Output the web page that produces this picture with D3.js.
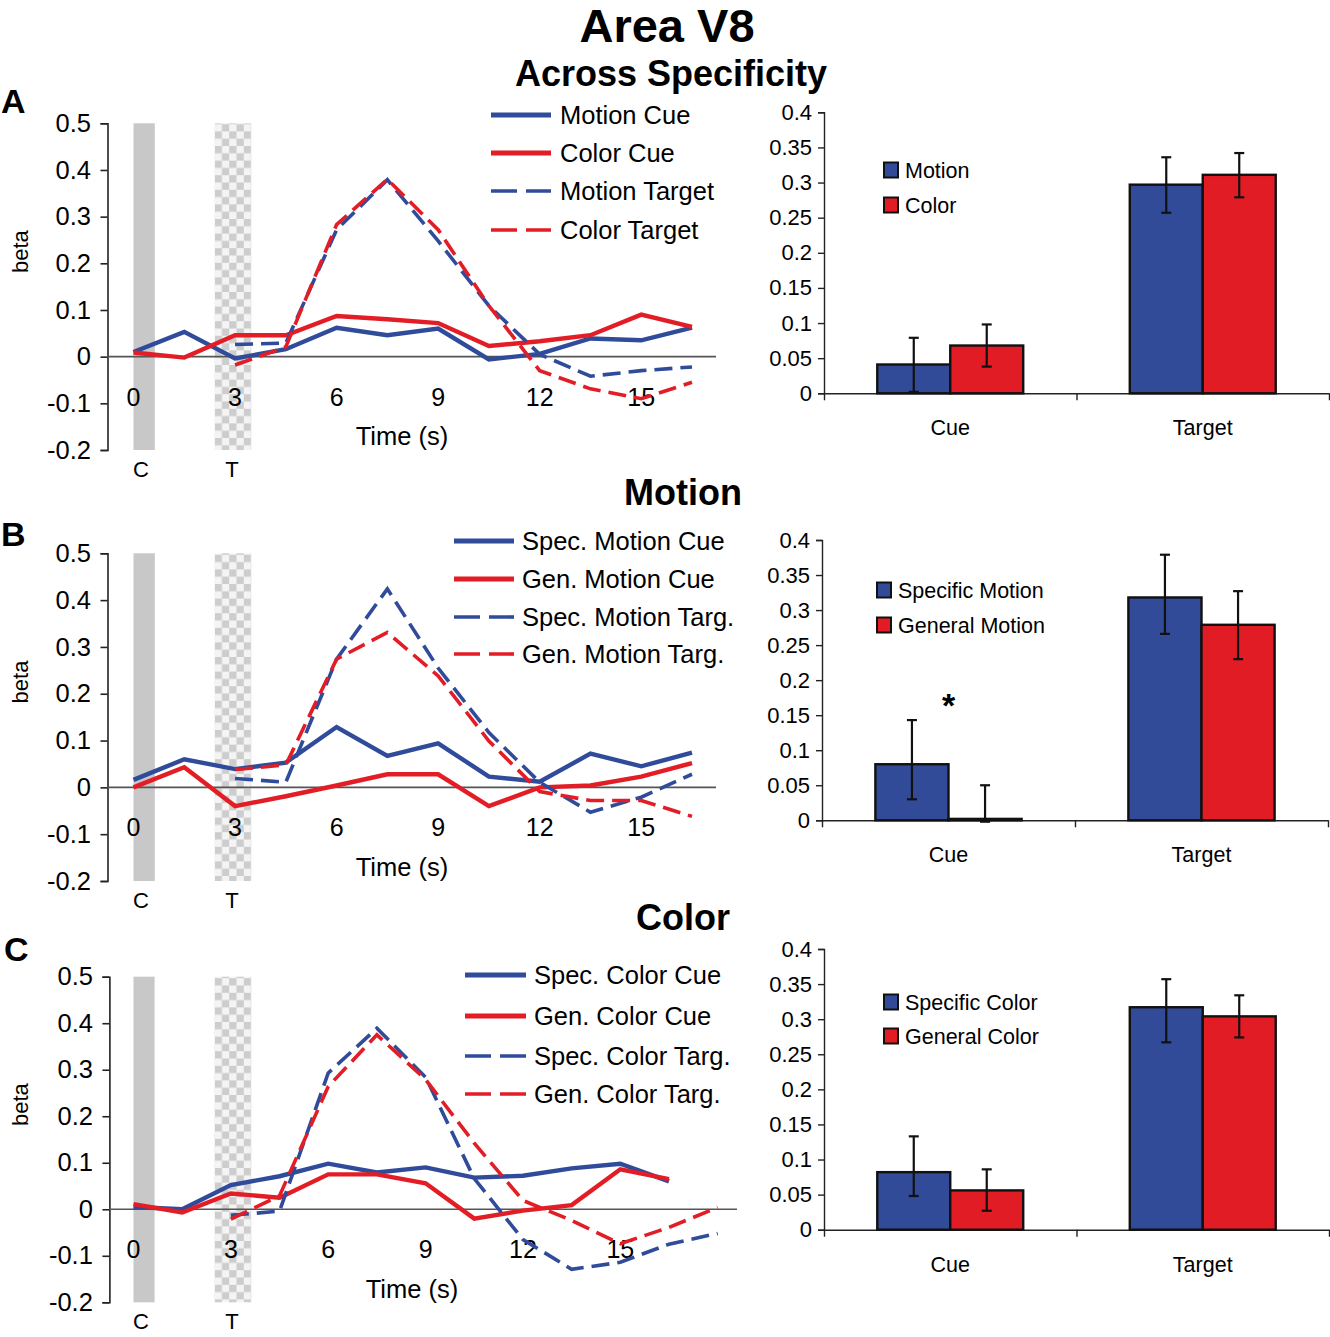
<!DOCTYPE html>
<html><head><meta charset="utf-8">
<script src="https://cdn.jsdelivr.net/npm/d3@7"></script>
<style>
body{margin:0;background:#fff;}
svg{display:block;font-family:"Liberation Sans",Arial,Helvetica,sans-serif;}
</style>
</head><body>
<svg id="chart" width="1330" height="1337"></svg>
<script>
// ---------------- DATA ----------------
const timeCue = [0, 1.5, 3, 4.5, 6, 7.5, 9, 10.5, 12, 13.5, 15, 16.5];
const timeTarget = [3, 4.5, 6, 7.5, 9, 10.5, 12, 13.5, 15, 16.5];
const timeTargetC = [3, 4.5, 6, 7.5, 9, 10.5, 12, 13.5, 15, 16.5, 18];
const xTickValues = [0, 3, 6, 9, 12, 15];
const yTicksLine = [-0.2, -0.1, 0, 0.1, 0.2, 0.3, 0.4, 0.5];
const yTicksBar = [0, 0.05, 0.1, 0.15, 0.2, 0.25, 0.3, 0.35, 0.4];
const barCategories = ["Cue", "Target"];

// Panel A: across specificity
const aMotionCue    = [0.010, 0.053, -0.004, 0.016, 0.062, 0.046, 0.060, -0.006, 0.006, 0.039, 0.035, 0.062];
const aColorCue     = [0.009, -0.002, 0.046, 0.046, 0.087, 0.080, 0.072, 0.023, 0.033, 0.046, 0.090, 0.064];
const aMotionTarget = [0.026, 0.029, 0.272, 0.379, 0.248, 0.109, 0.005, -0.042, -0.030, -0.022];
const aColorTarget  = [-0.018, 0.021, 0.283, 0.380, 0.272, 0.109, -0.030, -0.069, -0.090, -0.055];
const aLineLabels = ["Motion Cue", "Color Cue", "Motion Target", "Color Target"];
const aBarLabels = ["Motion", "Color"];
const aBarMotion = [0.041, 0.297], aBarMotionLo = [0.002, 0.257], aBarMotionHi = [0.079, 0.336];
const aBarColor  = [0.068, 0.311], aBarColorLo  = [0.038, 0.279], aBarColorHi  = [0.098, 0.342];

// Panel B: motion
const bSpecCue  = [0.016, 0.060, 0.039, 0.053, 0.129, 0.067, 0.094, 0.023, 0.012, 0.072, 0.045, 0.074];
const bGenCue   = [0.000, 0.043, -0.040, -0.019, 0.004, 0.028, 0.028, -0.040, 0.000, 0.004, 0.023, 0.052];
const bSpecTarg = [0.019, 0.011, 0.274, 0.424, 0.255, 0.117, 0.011, -0.053, -0.021, 0.028];
const bGenTarg  = [0.038, 0.048, 0.274, 0.331, 0.238, 0.099, -0.009, -0.028, -0.028, -0.062];
const bLineLabels = ["Spec. Motion Cue", "Gen. Motion Cue", "Spec. Motion Targ.", "Gen. Motion Targ."];
const bBarLabels = ["Specific Motion", "General Motion"];
const bBarSpec = [0.080, 0.318], bBarSpecLo = [0.030, 0.266], bBarSpecHi = [0.143, 0.379];
const bBarGen  = [0.002, 0.279], bBarGenLo  = [-0.002, 0.230], bBarGenHi  = [0.050, 0.327];

// Panel C: color
const cSpecCue  = [0.005, 0.000, 0.052, 0.071, 0.098, 0.079, 0.090, 0.068, 0.072, 0.088, 0.098, 0.060];
const cGenCue   = [0.011, -0.007, 0.034, 0.025, 0.075, 0.075, 0.056, -0.020, -0.003, 0.009, 0.086, 0.065];
const cSpecTarg = [-0.013, -0.004, 0.293, 0.389, 0.284, 0.066, -0.065, -0.129, -0.114, -0.075, -0.052];
const cGenTarg  = [-0.021, 0.029, 0.264, 0.375, 0.279, 0.142, 0.019, -0.024, -0.074, -0.039, 0.004];
const cLineLabels = ["Spec. Color Cue", "Gen. Color Cue", "Spec. Color Targ.", "Gen. Color Targ."];
const cBarLabels = ["Specific Color", "General Color"];
const cBarSpec = [0.082, 0.317], cBarSpecLo = [0.048, 0.267], cBarSpecHi = [0.133, 0.357];
const cBarGen  = [0.056, 0.304], cBarGenLo  = [0.027, 0.274], cBarGenHi  = [0.086, 0.334];

// ---------------- STYLE ----------------
const BLUE = "#2f4b9a";
const RED = "#e31d25";
const BAR_BLUE = "#324b98";
const BAR_RED = "#e21c24";

const svg = d3.select("#chart");
svg.append("rect").attr("width", 1330).attr("height", 1337).attr("fill", "#fff");

// checker pattern
const defs = svg.append("defs");
const pat = defs.append("pattern").attr("id", "checker").attr("patternUnits", "userSpaceOnUse")
  .attr("width", 14.6).attr("height", 14.6).attr("x", 214.6).attr("y", 0);
pat.append("rect").attr("width", 14.6).attr("height", 14.6).attr("fill", "#f4f4f4");
pat.append("rect").attr("width", 7.3).attr("height", 7.3).attr("fill", "#cdcdcd");
pat.append("rect").attr("x", 7.3).attr("y", 7.3).attr("width", 7.3).attr("height", 7.3).attr("fill", "#cdcdcd");

// titles
svg.append("text").attr("x", 667).attr("y", 42).attr("text-anchor", "middle")
  .attr("font-size", 47).attr("font-weight", "bold").text("Area V8");
svg.append("text").attr("x", 671).attr("y", 86).attr("text-anchor", "middle")
  .attr("font-size", 36).attr("font-weight", "bold").text("Across Specificity");
svg.append("text").attr("x", 683).attr("y", 505).attr("text-anchor", "middle")
  .attr("font-size", 36).attr("font-weight", "bold").text("Motion");
svg.append("text").attr("x", 683).attr("y", 930).attr("text-anchor", "middle")
  .attr("font-size", 36).attr("font-weight", "bold").text("Color");
[["A", 1, 113], ["B", 1, 546], ["C", 4, 961]].forEach(([t, x, y]) => {
  svg.append("text").attr("x", x).attr("y", y).attr("font-size", 34).attr("font-weight", "bold").text(t);
});

const lineFmt = d => d === 0 ? "0" : d.toFixed(1);
const barFmt = d => d === 0 ? "0" : String(+d.toFixed(2));

function lineChart(cfg) {
  const x = d3.scaleLinear().domain([0, 16.5]).range(cfg.xRange);
  const y = d3.scaleLinear().domain([-0.2, 0.5]).range([cfg.yBottom, cfg.yTop]);
  const g = svg.append("g");

  // event bars (cue / target presentation)
  g.append("rect").attr("x", x(cfg.cueBar[0])).attr("width", x(cfg.cueBar[1]) - x(cfg.cueBar[0]))
    .attr("y", y(0.5)).attr("height", y(-0.2) - y(0.5)).attr("fill", "#c8c8c8");
  g.append("rect").attr("x", x(cfg.targBar[0])).attr("width", x(cfg.targBar[1]) - x(cfg.targBar[0]))
    .attr("y", y(0.5)).attr("height", y(-0.2) - y(0.5)).attr("fill", "url(#checker)");

  // y axis
  const ax = g.append("g").attr("transform", `translate(${cfg.axisX},0)`)
    .call(d3.axisLeft(y).tickValues(yTicksLine).tickFormat(lineFmt).tickSize(7).tickPadding(9.5));
  ax.select(".domain").attr("stroke", "#222").attr("stroke-width", 1.6);
  ax.selectAll(".tick line").attr("stroke", "#222").attr("stroke-width", 1.6);
  ax.selectAll(".tick text").attr("font-size", 25.5).attr("fill", "#000")
    .attr("font-family", "'Liberation Sans',Arial,sans-serif");

  // zero line
  g.append("line").attr("x1", cfg.axisX).attr("x2", cfg.xEnd).attr("y1", y(0)).attr("y2", y(0))
    .attr("stroke", "#555").attr("stroke-width", 1.6);

  // x tick labels
  g.selectAll(".xt").data(xTickValues).enter().append("text")
    .attr("x", d => x(d)).attr("y", y(-0.086)).attr("dy", "0.35em")
    .attr("text-anchor", "middle").attr("font-size", 25).text(d => d);

  // labels
  g.append("text").attr("x", cfg.timeX).attr("y", y(-0.171)).attr("dy", "0.35em")
    .attr("text-anchor", "middle").attr("font-size", 25.5).text("Time (s)");
  g.append("text").attr("transform", `translate(28,${y(0.225)}) rotate(-90)`)
    .attr("text-anchor", "middle").attr("font-size", 22).text("beta");
  g.append("text").attr("x", 141).attr("y", y(-0.2) + 27).attr("text-anchor", "middle")
    .attr("font-size", 22).text("C");
  g.append("text").attr("x", 232).attr("y", y(-0.2) + 27).attr("text-anchor", "middle")
    .attr("font-size", 22).text("T");

  // lines
  const line = d3.line().x(d => x(d[0])).y(d => y(d[1]));
  cfg.series.forEach(s => {
    g.append("path").datum(s.t.map((t, i) => [t, s.v[i]]))
      .attr("d", line).attr("fill", "none").attr("stroke", s.color)
      .attr("stroke-width", s.dash ? 3.6 : 4.4)
      .attr("stroke-dasharray", s.dash ? "18,8" : null)
      .attr("stroke-linejoin", "miter");
  });

  // legend
  cfg.series.forEach((s, i) => {
    const ly = cfg.legend.ys[i];
    g.append("line").attr("x1", cfg.legend.x1).attr("x2", cfg.legend.x2).attr("y1", ly).attr("y2", ly)
      .attr("stroke", s.color).attr("stroke-width", s.dash ? 3.6 : 5)
      .attr("stroke-dasharray", s.dash ? "26,9" : null);
    g.append("text").attr("x", cfg.legend.tx).attr("y", ly).attr("dy", "0.35em")
      .attr("font-size", 25.5).text(s.name);
  });
}

function barChart(cfg) {
  const y = d3.scaleLinear().domain([0, 0.4]).range([cfg.yZero, cfg.yTop]);
  const x0 = d3.scaleBand().domain(barCategories).range([cfg.axisX, cfg.xEnd]).paddingInner(0).paddingOuter(0);
  const x1 = d3.scaleBand().domain([0, 1]).range([0, x0.bandwidth()]).paddingInner(0).paddingOuter(0.73);
  const g = svg.append("g");

  // y axis
  const ay = g.append("g").attr("transform", `translate(${cfg.axisX},0)`)
    .call(d3.axisLeft(y).tickValues(yTicksBar).tickFormat(barFmt).tickSize(6).tickPadding(6));
  ay.select(".domain").attr("stroke", "#222").attr("stroke-width", 1.4);
  ay.selectAll(".tick line").attr("stroke", "#222").attr("stroke-width", 1.4);
  ay.selectAll(".tick text").attr("font-size", 22).attr("fill", "#000")
    .attr("font-family", "'Liberation Sans',Arial,sans-serif");

  // x axis (category boundaries)
  const xb = d3.scaleLinear().domain([0, barCategories.length]).range([cfg.axisX, cfg.xEnd]);
  const axb = g.append("g").attr("transform", `translate(0,${cfg.yZero})`)
    .call(d3.axisBottom(xb).tickValues(d3.range(barCategories.length + 1)).tickFormat("").tickSize(7).tickSizeOuter(0));
  axb.select(".domain").attr("stroke", "#222").attr("stroke-width", 1.4);
  axb.selectAll(".tick line").attr("stroke", "#222").attr("stroke-width", 1.4);

  // category labels
  g.selectAll(".cat").data(barCategories).enter().append("text")
    .attr("x", d => x0(d) + x0.bandwidth() / 2).attr("y", cfg.yZero + 42)
    .attr("text-anchor", "middle").attr("font-size", 21.5).text(d => d);

  // bars
  cfg.series.forEach((s, si) => {
    barCategories.forEach((c, ci) => {
      const bx = x0(c) + x1(si);
      const v = s.v[ci];
      g.append("rect").attr("x", bx).attr("width", x1.bandwidth())
        .attr("y", y(Math.max(v, 0))).attr("height", Math.abs(y(v) - y(0)))
        .attr("fill", s.color).attr("stroke", "#111").attr("stroke-width", 2.4);
    });
  });
  // error bars
  cfg.series.forEach((s, si) => {
    barCategories.forEach((c, ci) => {
      const cx = x0(c) + x1(si) + x1.bandwidth() / 2;
      const lo = y(s.lo[ci]), hi = y(s.hi[ci]);
      g.append("line").attr("x1", cx).attr("x2", cx).attr("y1", lo).attr("y2", hi)
        .attr("stroke", "#111").attr("stroke-width", 2.2);
      [lo, hi].forEach(yy => g.append("line").attr("x1", cx - 5).attr("x2", cx + 5)
        .attr("y1", yy).attr("y2", yy).attr("stroke", "#111").attr("stroke-width", 2.2));
    });
  });

  // legend
  cfg.series.forEach((s, i) => {
    const ly = cfg.legend.ys[i];
    g.append("rect").attr("x", cfg.legend.x).attr("y", ly - 7.5).attr("width", 14).attr("height", 15)
      .attr("fill", s.color).attr("stroke", "#111").attr("stroke-width", 2);
    g.append("text").attr("x", cfg.legend.x + 21).attr("y", ly).attr("dy", "0.35em")
      .attr("font-size", 21.5).text(s.name);
  });

  if (cfg.star) {
    g.append("text").attr("x", x0(cfg.star.cat) + x0.bandwidth() / 2).attr("y", y(cfg.star.v))
      .attr("text-anchor", "middle").attr("font-size", 34).attr("font-weight", "bold").text("*");
  }
}

// ---------------- PANEL A ----------------
lineChart({
  axisX: 107.5, xRange: [133.5, 692], xEnd: 716, yTop: 123.3, yBottom: 450, timeX: 402,
  cueBar: [0, 0.63], targBar: [2.4, 3.48],
  series: [
    { name: aLineLabels[0], t: timeCue, v: aMotionCue, color: BLUE },
    { name: aLineLabels[1], t: timeCue, v: aColorCue, color: RED },
    { name: aLineLabels[2], t: timeTarget, v: aMotionTarget, color: BLUE, dash: true },
    { name: aLineLabels[3], t: timeTarget, v: aColorTarget, color: RED, dash: true }
  ],
  legend: { x1: 491, x2: 551, tx: 560, ys: [115, 153, 191, 230] }
});
barChart({
  axisX: 824, xEnd: 1329, yZero: 393.3, yTop: 112.3,
  series: [
    { name: aBarLabels[0], v: aBarMotion, lo: aBarMotionLo, hi: aBarMotionHi, color: BAR_BLUE },
    { name: aBarLabels[1], v: aBarColor, lo: aBarColorLo, hi: aBarColorHi, color: BAR_RED }
  ],
  legend: { x: 884, ys: [170, 205] }
});

// ---------------- PANEL B ----------------
lineChart({
  axisX: 107.5, xRange: [133.5, 692], xEnd: 716, yTop: 553.3, yBottom: 881, timeX: 402,
  cueBar: [0, 0.63], targBar: [2.4, 3.48],
  series: [
    { name: bLineLabels[0], t: timeCue, v: bSpecCue, color: BLUE },
    { name: bLineLabels[1], t: timeCue, v: bGenCue, color: RED },
    { name: bLineLabels[2], t: timeTarget, v: bSpecTarg, color: BLUE, dash: true },
    { name: bLineLabels[3], t: timeTarget, v: bGenTarg, color: RED, dash: true }
  ],
  legend: { x1: 454, x2: 514, tx: 522, ys: [541, 579, 617, 654] }
});
barChart({
  axisX: 822, xEnd: 1328, yZero: 820.3, yTop: 540,
  series: [
    { name: bBarLabels[0], v: bBarSpec, lo: bBarSpecLo, hi: bBarSpecHi, color: BAR_BLUE },
    { name: bBarLabels[1], v: bBarGen, lo: bBarGenLo, hi: bBarGenHi, color: BAR_RED }
  ],
  legend: { x: 877, ys: [590, 625] },
  star: { cat: "Cue", v: 0.147 }
});

// ---------------- PANEL C ----------------
lineChart({
  axisX: 109.4, xRange: [133.5, 669], xEnd: 737, yTop: 976.7, yBottom: 1302.3, timeX: 412,
  cueBar: [0, 0.65], targBar: [2.5, 3.63],
  series: [
    { name: cLineLabels[0], t: timeCue, v: cSpecCue, color: BLUE },
    { name: cLineLabels[1], t: timeCue, v: cGenCue, color: RED },
    { name: cLineLabels[2], t: timeTargetC, v: cSpecTarg, color: BLUE, dash: true },
    { name: cLineLabels[3], t: timeTargetC, v: cGenTarg, color: RED, dash: true }
  ],
  legend: { x1: 465, x2: 526, tx: 534, ys: [975, 1016, 1056, 1094] }
});
barChart({
  axisX: 824, xEnd: 1329, yZero: 1229.7, yTop: 949,
  series: [
    { name: cBarLabels[0], v: cBarSpec, lo: cBarSpecLo, hi: cBarSpecHi, color: BAR_BLUE },
    { name: cBarLabels[1], v: cBarGen, lo: cBarGenLo, hi: cBarGenHi, color: BAR_RED }
  ],
  legend: { x: 884, ys: [1002, 1036] }
});
</script>
</body></html>
